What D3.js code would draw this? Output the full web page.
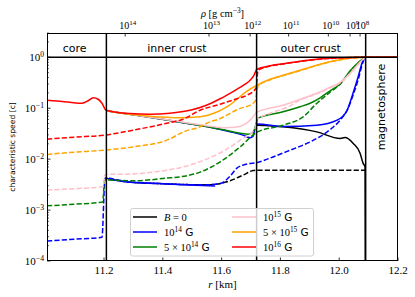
<!DOCTYPE html>
<html><head><meta charset="utf-8">
<script src="https://cdn.jsdelivr.net/npm/d3@7"></script>
<style>body{margin:0;background:#fff}</style>
</head><body><svg id="c" width="415" height="297"></svg>
<script>
// ---------- data ----------
const rDomain = [11.006, 12.2];
const vDomain = [1e-4, 3];
const xTicks = [11.2, 11.4, 11.6, 11.8, 12.0, 12.2];
const yTickExps = [-4, -3, -2, -1, 0];
const rhoTickExps = [14, 13, 12, 11, 10, 9, 8];
const rhoTickR = [11.272, 11.557, 11.697, 11.828, 11.963, 12.037, 12.071];
const boundariesR = [11.208, 11.719, 12.090];
const regionNames = ["core", "inner crust", "outer crust"];
const regionCentersR = [11.100, 11.448, 11.903];
const magnetoLabel = "magnetosphere";

const fieldNames = ["B = 0", "10^14", "5x10^14", "10^15", "5x10^15", "10^16"];
const fieldColors = ["#000000", "#0000ff", "#008000", "#ffc0cb", "#ffa500", "#ff0000"];

// solid curves  [r (km), speed (c)]
const blackSolid = [[11.720,0.0464],[11.809,0.0432],[11.924,0.0343],[12.003,0.0255],[12.020,0.0266],[12.047,0.0206],[12.071,0.0131],[12.081,0.00835],[12.088,0.00697],[12.0895,1e-6]];
const blueSolid = [[11.207,0.0893],[11.322,0.0713],[11.459,0.0531],[11.561,0.0424],[11.629,0.0346],[11.673,0.0296],[11.697,0.0264],[11.707,0.0282],[11.714,0.0405],[11.722,0.0490],[11.809,0.0440],[11.924,0.0464],[11.993,0.0582],[12.027,0.0914],[12.047,0.197],[12.064,0.405],[12.081,0.873],[12.090,1],[12.2,1]];
const blueSolidLow = [[11.207,0.00424],[11.278,0.00354],[11.390,0.00331],[11.493,0.00309],[11.578,0.00296]];
const greenSolid = [[11.207,0.0893],[11.322,0.0713],[11.459,0.0531],[11.561,0.0424],[11.629,0.0354],[11.663,0.0323],[11.690,0.0309],[11.707,0.0338],[11.717,0.0486],[11.724,0.0640],[11.809,0.0850],[11.867,0.107],[11.901,0.125],[11.935,0.160],[11.969,0.220],[12.003,0.30],[12.037,0.54],[12.064,0.78],[12.081,0.93],[12.090,1],[12.2,1]];
const pinkSolid = [[11.207,0.0893],[11.322,0.0713],[11.459,0.0543],[11.561,0.0444],[11.612,0.0415],[11.646,0.0424],[11.680,0.0486],[11.703,0.0637],[11.720,0.0835],[11.809,0.1145],[11.867,0.150],[11.924,0.197],[11.969,0.258],[12.003,0.323],[12.037,0.486],[12.064,0.729],[12.081,0.914],[12.090,1],[12.2,1]];
const orangeSolid = [[11.207,0.0893],[11.288,0.0762],[11.356,0.0697],[11.459,0.0652],[11.527,0.0681],[11.578,0.0816],[11.622,0.1095],[11.652,0.150],[11.686,0.216],[11.720,0.283],[11.765,0.370],[11.809,0.443],[11.867,0.556],[11.924,0.697],[11.969,0.816],[12.020,0.935],[12.090,1],[12.2,1]];
const redSolid = [[11.006,0.1435],[11.040,0.139],[11.084,0.131],[11.125,0.125],[11.146,0.140],[11.163,0.161],[11.180,0.150],[11.193,0.125],[11.207,0.0914],[11.288,0.0787],[11.356,0.0762],[11.424,0.0798],[11.493,0.0914],[11.544,0.112],[11.595,0.1536],[11.646,0.225],[11.680,0.296],[11.697,0.354],[11.710,0.444],[11.720,0.582],[11.765,0.681],[11.809,0.746],[11.867,0.835],[11.924,0.914],[11.986,0.964],[12.090,1],[12.2,1]];

// dashed curves
const blackDashed = [[11.2034,0.00424],[11.288,0.00354],[11.390,0.00331],[11.493,0.00316],[11.561,0.00316],[11.618,0.00359],[11.673,0.00486],[11.707,0.00596],[11.720,0.00608],[12.090,0.00608]];
const blueDashed = [[11.006,0.000247],[11.100,0.000268],[11.193,0.000292],[11.2034,0.00424],[11.288,0.00354],[11.390,0.00331],[11.493,0.00316],[11.561,0.00316],[11.595,0.00331],[11.629,0.00464],[11.652,0.00667],[11.686,0.0080],[11.720,0.00854],[11.765,0.0105],[11.833,0.0150],[11.901,0.0218],[11.959,0.0343],[12.003,0.0582],[12.027,0.0914],[12.047,0.180],[12.064,0.354],[12.081,0.798],[12.090,1],[12.2,1]];
const greenDashed = [[11.006,0.00121],[11.096,0.00130],[11.1956,0.00144],[11.2017,0.00388],[11.210,0.00388],[11.299,0.00375],[11.414,0.00424],[11.459,0.0045],[11.527,0.00556],[11.595,0.00885],[11.663,0.0174],[11.720,0.0338],[11.809,0.0464],[11.877,0.0675],[11.924,0.125],[11.969,0.206],[12.003,0.295],[12.037,0.53],[12.064,0.77],[12.081,0.93],[12.090,1],[12.2,1]];
const pinkDashed = [[11.006,0.00247],[11.101,0.00264],[11.197,0.00287],[11.2034,0.00501],[11.278,0.00508],[11.413,0.00608],[11.459,0.00681],[11.527,0.00894],[11.612,0.0150],[11.663,0.0236],[11.714,0.0405],[11.720,0.0609],[11.765,0.0798],[11.833,0.111],[11.867,0.1445],[11.924,0.191],[11.969,0.251],[12.003,0.314],[12.037,0.474],[12.064,0.712],[12.081,0.900],[12.090,1],[12.2,1]];
const orangeDashed = [[11.006,0.0124],[11.100,0.0137],[11.200,0.0150],[11.299,0.0174],[11.414,0.0236],[11.476,0.0354],[11.527,0.0431],[11.550,0.0508],[11.595,0.0628],[11.656,0.0956],[11.707,0.125],[11.714,0.137],[11.724,0.272],[11.765,0.362],[11.809,0.436],[11.867,0.549],[11.924,0.690],[11.969,0.810],[12.020,0.930],[12.090,1],[12.2,1]];
const redDashed = [[11.006,0.0247],[11.100,0.0270],[11.200,0.0296],[11.299,0.0371],[11.414,0.0508],[11.469,0.0609],[11.527,0.0914],[11.595,0.120],[11.652,0.154],[11.686,0.180],[11.717,0.247],[11.724,0.560],[11.765,0.672],[11.809,0.738],[11.867,0.828],[11.924,0.908],[11.986,0.960],[12.090,1],[12.2,1]];

const solidSeries = [blackSolid, blueSolid, greenSolid, pinkSolid, orangeSolid, redSolid];
const dashedSeries = [blackDashed, blueDashed, greenDashed, pinkDashed, orangeDashed, redDashed];

// ---------- drawing ----------
const svg = d3.select("#c");
const L = 47, R = 398, T = 33, B = 261;
const SERIF = "'Liberation Serif','DejaVu Serif',serif";
const SANS = "'DejaVu Sans',sans-serif";
const x = d3.scaleLinear().domain(rDomain).range([L, R]);
const y = d3.scaleLog().domain(vDomain).range([B, T]);

svg.append("rect").attr("width",415).attr("height",297).attr("fill","#fff");
svg.append("defs").append("clipPath").attr("id","clip")
  .append("rect").attr("x",L).attr("y",T).attr("width",R-L).attr("height",B-T);

function supText(g, parts, opts) {
  const t = g.append("text").attr("x",opts.x).attr("y",opts.y)
    .attr("text-anchor",opts.anchor||"middle").attr("font-size",opts.size)
    .attr("font-family",SERIF).attr("fill","#000");
  let raised = false;
  parts.forEach(p => {
    const ts = t.append("tspan").text(p.t);
    if (p.font) ts.attr("font-family", p.font);
    if (p.italic) ts.attr("font-style","italic");
    if (p.sup && !raised) { ts.attr("dy", -opts.size*0.4).attr("font-size", opts.size*0.7); raised = true; }
    else if (p.sup) { ts.attr("font-size", opts.size*0.7); }
    else if (!p.sup && raised) { ts.attr("dy", opts.size*0.4); raised = false; }
  });
  return t;
}

// series
const line = d3.line().x(d=>x(d[0])).y(d=>y(d[1])).curve(d3.curveMonotoneX);
const gS = svg.append("g").attr("clip-path","url(#clip)");
for (let i = 0; i < fieldColors.length; i++) {
  gS.append("path").attr("d", line(solidSeries[i])).attr("fill","none")
    .attr("stroke", fieldColors[i]).attr("stroke-width",1.5).attr("stroke-linejoin","round");
  if (i === 1) {
    gS.append("path").attr("d", line(blueSolidLow)).attr("fill","none")
      .attr("stroke", fieldColors[1]).attr("stroke-width",1.5);
  }
  gS.append("path").attr("d", line(dashedSeries[i])).attr("fill","none")
    .attr("stroke", fieldColors[i]).attr("stroke-width",1.5).attr("stroke-dasharray","5.2,2.2");
}

// boundaries and v = 1 line
boundariesR.forEach(r => {
  svg.append("line").attr("x1",x(r)).attr("x2",x(r)).attr("y1",T).attr("y2",B)
    .attr("stroke","#000").attr("stroke-width",1.5);
});
svg.append("line").attr("x1",L).attr("x2",R).attr("y1",y(1)).attr("y2",y(1))
  .attr("stroke","#000").attr("stroke-width",1.5);

// region labels
regionNames.forEach((n,i) => {
  svg.append("text").attr("x",x(regionCentersR[i])).attr("y",51.5).attr("text-anchor","middle")
    .attr("font-family",SANS).attr("font-size",11).text(n);
});
svg.append("text").attr("transform",`translate(385,107) rotate(-90)`).attr("text-anchor","middle")
  .attr("font-family",SANS).attr("font-size",11).text(magnetoLabel);

// frame
svg.append("rect").attr("x",L+0.5).attr("y",T+0.5).attr("width",R-L-1).attr("height",B-T-1)
  .attr("fill","none").attr("stroke","#000").attr("stroke-width",1);

// bottom ticks
const axG = svg.append("g");
xTicks.forEach(t => {
  const px = x(t);
  axG.append("line").attr("x1",px).attr("x2",px).attr("y1",B).attr("y2",B-3.5).attr("stroke","#000").attr("stroke-width",0.8);
  axG.append("text").attr("x",px).attr("y",B+12.5).attr("text-anchor","middle")
    .attr("font-family",SERIF).attr("font-size",11).text(t.toFixed(1));
});
supText(axG, [{t:"r",italic:true},{t:" [km]"}], {x:222.5, y:288, size:11});

// left ticks
yTickExps.forEach(e => {
  const py = y(Math.pow(10,e));
  axG.append("line").attr("x1",L).attr("x2",L+3.5).attr("y1",py).attr("y2",py).attr("stroke","#000").attr("stroke-width",0.8);
  supText(axG, [{t:"10"},{t:(e<0?"\u2212":"")+Math.abs(e),sup:true}], {x:L-3, y:py+4, size:11, anchor:"end"});
  for (let m = 2; m <= 9; m++) {
    const v = m*Math.pow(10,e);
    if (v > vDomain[1]) break;
    const pm = y(v);
    axG.append("line").attr("x1",L).attr("x2",L+2).attr("y1",pm).attr("y2",pm).attr("stroke","#000").attr("stroke-width",0.6);
  }
});
svg.append("text").attr("transform","translate(15,147) rotate(-90)").attr("text-anchor","middle")
  .attr("font-family",SANS).attr("font-size",7.6).text("characteristic speed [c]");

// top ticks (density)
rhoTickR.forEach((r,i) => {
  const px = x(r);
  axG.append("line").attr("x1",px).attr("x2",px).attr("y1",T).attr("y2",T+3.5).attr("stroke","#000").attr("stroke-width",0.8);
  supText(axG, [{t:"10"},{t:String(rhoTickExps[i]),sup:true}], {x:px+2.5, y:T-4, size:10});
});
supText(axG, [{t:"\u03c1",italic:true},{t:" [g cm"},{t:"\u22123",sup:true},{t:"]"}], {x:222.5, y:17, size:10.5});

// legend
const lg = svg.append("g");
lg.append("rect").attr("x",130.5).attr("y",208.5).attr("width",183).attr("height",47.5).attr("rx",2)
  .attr("fill","#fff").attr("fill-opacity",0.8).attr("stroke","#d0d0d0").attr("stroke-width",1);
const legendLabels = [
  [{t:"B",italic:true},{t:" = 0"}],
  [{t:"10"},{t:"14",sup:true},{t:" G",font:SANS}],
  [{t:"5 \u00d7 10"},{t:"14",sup:true},{t:" G",font:SANS}],
  [{t:"10"},{t:"15",sup:true},{t:" G",font:SANS}],
  [{t:"5 \u00d7 10"},{t:"15",sup:true},{t:" G",font:SANS}],
  [{t:"10"},{t:"16",sup:true},{t:" G",font:SANS}]
];
fieldColors.forEach((c,i) => {
  const col = Math.floor(i/3), row = i%3;
  const lx = col===0 ? 133 : 232;
  const ly = 217 + row*15;
  lg.append("line").attr("x1",lx).attr("x2",lx+24).attr("y1",ly).attr("y2",ly)
    .attr("stroke",c).attr("stroke-width",1.5);
  supText(lg, legendLabels[i], {x:lx+31, y:ly+4, size:10.5, anchor:"start"});
});
</script>
</body></html>
